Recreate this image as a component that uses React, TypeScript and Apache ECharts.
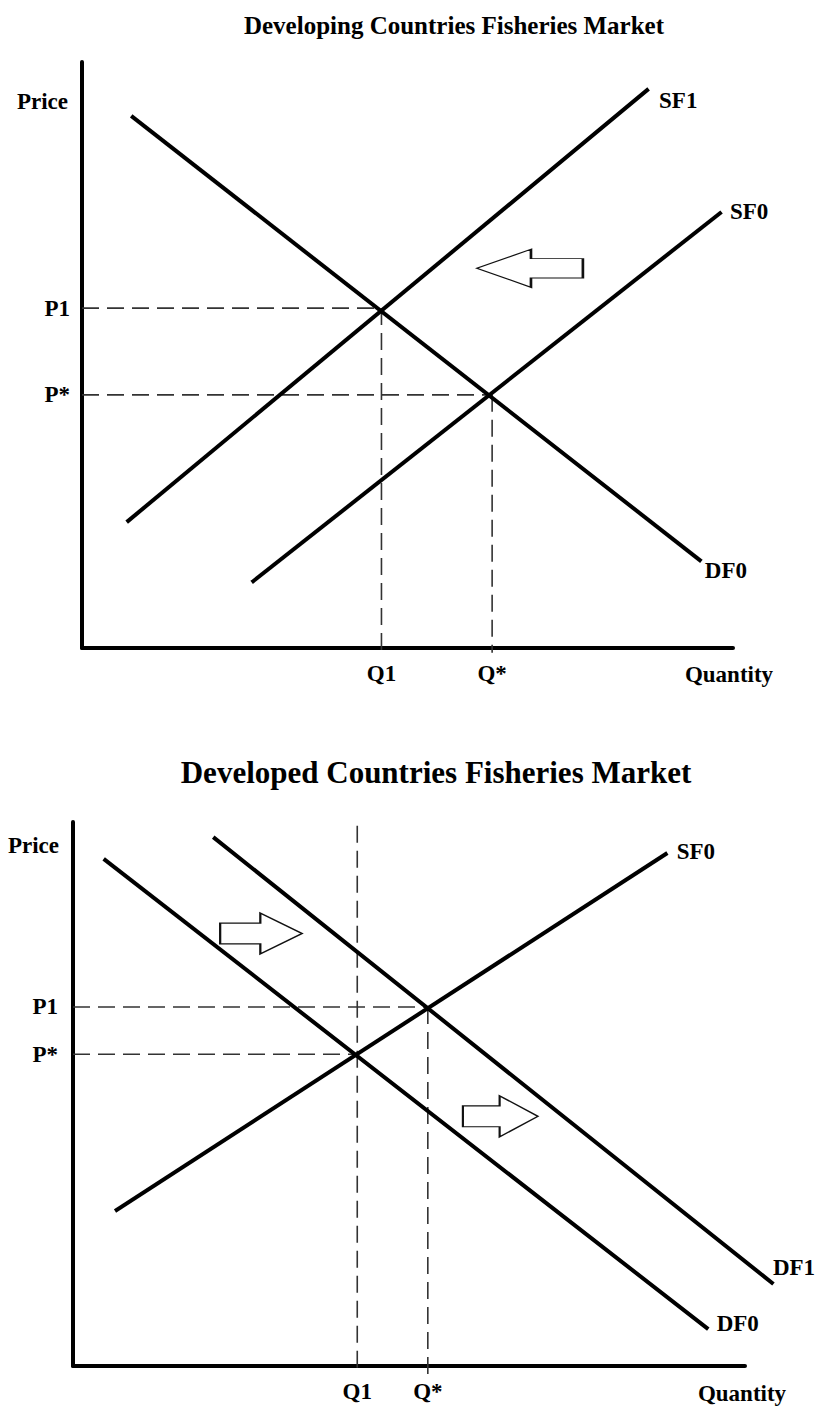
import React, { useEffect, useRef } from "react";
import * as echarts from "echarts";

const FONT = '"Liberation Serif", "Times New Roman", serif';

// ---------- Top chart: Developing Countries ----------
const topTitle = "Developing Countries Fisheries Market";
const topCurveNames = ["DF0", "SF1", "SF0"];
const topDF0 = [[7.8, 90.6], [94.9, 15.0]];
const topSF1 = [[7.1, 21.7], [86.8, 95.2]];
const topSF0 = [[26.3, 11.4], [98.0, 74.2]];
const topQLabels = ["Q1", "Q*"];
const topQ = [46, 63];
const topPLabels = ["P1", "P*"];
const topP = [58, 43.2];
const topVTop = [58, 43.2];
const topArrowLeft = [[68.8, 64.8]];

// ---------- Bottom chart: Developed Countries ----------
const botTitle = "Developed Countries Fisheries Market";
const botCurveNames = ["SF0", "DF0", "DF1"];
const botSF0 = [[6.5, 28.7], [88.2, 94.1]];
const botDF0 = [[4.8, 93.0], [94.3, 7.0]];
const botDF1 = [[21.1, 97.0], [104.0, 15.3]];
const botQLabels = ["Q1", "Q*"];
const botQ = [42.3, 52.8];
const botPLabels = ["P*", "P1"];
const botP = [57.3, 66.0];
const botVTop = [99.3, 66.0];
const botArrowsRight = [[28.0, 79.5], [63.6, 45.9]];

const axisNames = { price: "Price", quantity: "Quantity" };

const RIGHT_ARROW = "path://M0,30 L120,30 L120,0 L245,61 L120,122 L120,92 L0,92 Z";
const LEFT_ARROW = "path://M245,30 L125,30 L125,0 L0,61 L125,122 L125,92 L245,92 Z";

const LABEL_STYLE = { fontFamily: FONT, fontWeight: "bold" as const, fontSize: 23, color: "#000" };

// Straight curve drawn through the axes' scales (custom series is not clipped to the grid)
function curve(name: string, data: number[][], idx: number) {
  return {
    type: "custom",
    name,
    xAxisIndex: idx,
    yAxisIndex: idx,
    clip: false,
    silent: true,
    z: 2,
    data: [data.flat()],
    renderItem: (_params: any, api: any) => {
      const p1 = api.coord([api.value(0), api.value(1)]);
      const p2 = api.coord([api.value(2), api.value(3)]);
      return {
        type: "line",
        shape: { x1: p1[0], y1: p1[1], x2: p2[0], y2: p2[1] },
        style: { stroke: "#000", lineWidth: 4, lineCap: "square" },
      };
    },
  };
}

function curveLabel(name: string, data: number[][], idx: number, offset: number[]) {
  return {
    type: "scatter",
    xAxisIndex: idx,
    yAxisIndex: idx,
    symbolSize: 0,
    clip: false,
    silent: true,
    itemStyle: { opacity: 1 },
    data: [{ value: data[data.length - 1], name }],
    label: { show: true, formatter: "{b}", position: "right", distance: 5, offset, ...LABEL_STYLE },
  };
}

function guide(data: number[][], idx: number) {
  return {
    type: "line",
    xAxisIndex: idx,
    yAxisIndex: idx,
    data,
    symbol: "none",
    clip: false,
    silent: true,
    z: 1,
    lineStyle: { color: "#333", width: 1.6, type: [17, 8] },
  };
}

function labelPoints(points: number[][], names: string[], idx: number, position: string, distance: number) {
  return {
    type: "scatter",
    xAxisIndex: idx,
    yAxisIndex: idx,
    symbolSize: 0,
    clip: false,
    silent: true,
    itemStyle: { opacity: 1 },
    data: points.map((p, i) => ({ value: p, name: names[i] })),
    label: { show: true, formatter: "{b}", position, distance, ...LABEL_STYLE },
  };
}

function arrows(points: number[][], idx: number, symbol: string, sizes: number[][]) {
  return {
    type: "scatter",
    xAxisIndex: idx,
    yAxisIndex: idx,
    silent: true,
    clip: false,
    z: 3,
    data: points.map((p, i) => ({ value: p, symbol, symbolSize: sizes[i] })),
    itemStyle: { color: "#fff", borderColor: "#111", borderWidth: 1.6, opacity: 1 },
  };
}

function guidesFor(Q: number[], P: number[], vTop: number[], idx: number, below: number) {
  const out: any[] = [];
  Q.forEach((q, i) => {
    out.push(guide([[0, P[i]], [q, P[i]]], idx));
  });
  Q.forEach((q, i) => {
    out.push(guide([[q, vTop[i]], [q, below]], idx));
  });
  return out;
}

function axisPair(idx: number, quantityEndGap: number, priceGap: number, qPad: number) {
  const axisLine = { show: true, onZero: false, lineStyle: { color: "#000", width: 4 } };
  return {
    x: {
      type: "value",
      gridIndex: idx,
      min: 0,
      max: 100,
      axisLine,
      axisTick: { show: false },
      axisLabel: { show: false },
      splitLine: { show: false },
      name: axisNames.quantity,
      nameLocation: "end",
      nameGap: quantityEndGap,
      nameTextStyle: { ...LABEL_STYLE, align: "center", verticalAlign: "top", padding: [qPad, 0, 0, 0] },
    },
    y: {
      type: "value",
      gridIndex: idx,
      min: 0,
      max: 100,
      axisLine,
      axisTick: { show: false },
      axisLabel: { show: false },
      splitLine: { show: false },
      name: axisNames.price,
      nameLocation: "end",
      nameGap: priceGap,
      nameTextStyle: { ...LABEL_STYLE, align: "right", verticalAlign: "middle", padding: [0, 14, 0, 0] },
    },
  };
}

export default function App() {
  const ref = useRef<HTMLDivElement>(null);
  useEffect(() => {
    if (!ref.current) return;
    const chart = echarts.init(ref.current, undefined, { renderer: "svg" });
    const a0 = axisPair(0, -4, -39, 15);
    const a1 = axisPair(1, -3, -23, 16);
    chart.setOption({
      animation: false,
      backgroundColor: "#fff",
      title: [
        {
          text: topTitle,
          left: 449,
          top: 8,
          textAlign: "center",
          textStyle: { fontFamily: FONT, fontWeight: "bold", fontSize: 25, color: "#000" },
        },
        {
          text: botTitle,
          left: 431,
          top: 752,
          textAlign: "center",
          textStyle: { fontFamily: FONT, fontWeight: "bold", fontSize: 31, color: "#000" },
        },
      ],
      grid: [
        { left: 82, top: 62, width: 651, height: 586 },
        { left: 73, top: 822, width: 672, height: 544 },
      ],
      xAxis: [a0.x, a1.x],
      yAxis: [a0.y, a1.y],
      series: [
        ...guidesFor(topQ, topP, topVTop, 0, -0.8),
        curve(topCurveNames[0], topDF0, 0),
        curve(topCurveNames[1], topSF1, 0),
        curve(topCurveNames[2], topSF0, 0),
        curveLabel(topCurveNames[0], topDF0, 0, [0, 10]),
        curveLabel(topCurveNames[1], topSF1, 0, [7, 10]),
        curveLabel(topCurveNames[2], topSF0, 0, [5, -2]),
        labelPoints(topP.map((p) => [0, p]), topPLabels, 0, "left", 12),
        labelPoints(topQ.map((q) => [q, 0]), topQLabels, 0, "bottom", 14),
        arrows(topArrowLeft, 0, LEFT_ARROW, [[106, 38]]),

        ...guidesFor(botQ, botP, botVTop, 1, -1.7),
        curve(botCurveNames[0], botSF0, 1),
        curve(botCurveNames[1], botDF0, 1),
        curve(botCurveNames[2], botDF1, 1),
        curveLabel(botCurveNames[0], botSF0, 1, [6, -3]),
        curveLabel(botCurveNames[1], botDF0, 1, [5, -4]),
        curveLabel(botCurveNames[2], botDF1, 1, [-4, -15]),
        labelPoints(botP.map((p) => [0, p]), botPLabels, 1, "left", 15),
        labelPoints(botQ.map((q) => [q, 0]), botQLabels, 1, "bottom", 14),
        arrows(botArrowsRight, 1, RIGHT_ARROW, [[82, 41], [75, 41]]),
      ],
    });
    return () => chart.dispose();
  }, []);
  return (
    <div
      ref={ref}
      style={{ position: "absolute", left: 0, top: 0, width: 817, height: 1407, background: "#fff" }}
    />
  );
}
